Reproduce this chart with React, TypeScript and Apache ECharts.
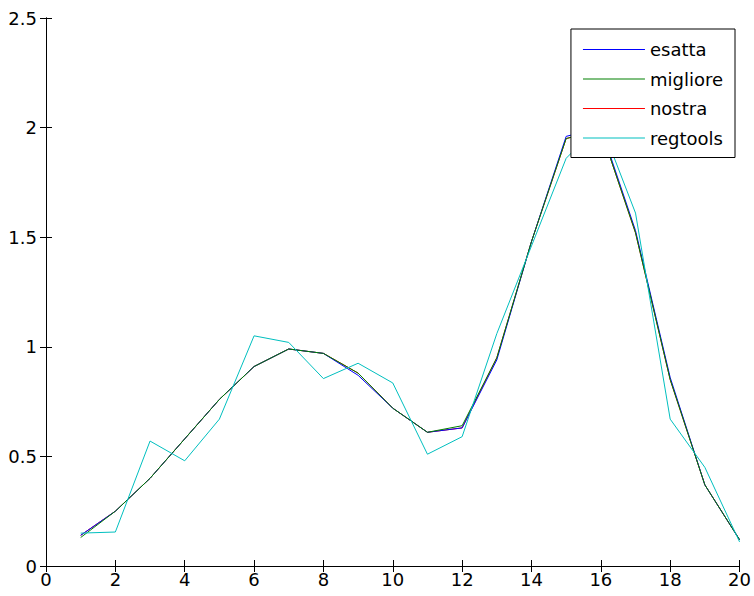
import React, { useEffect, useRef } from "react";
import * as echarts from "echarts";

const xValues = [1, 2, 3, 4, 5, 6, 7, 8, 9, 10, 11, 12, 13, 14, 15, 16, 17, 18, 19, 20];
const esatta = [0.14, 0.25, 0.4, 0.58, 0.76, 0.91, 0.99, 0.97, 0.87, 0.72, 0.61, 0.63, 0.94, 1.48, 1.96, 2.0, 1.53, 0.86, 0.37, 0.12];
const migliore = [0.13, 0.25, 0.4, 0.58, 0.76, 0.91, 0.99, 0.97, 0.88, 0.72, 0.61, 0.64, 0.95, 1.48, 1.95, 1.99, 1.52, 0.85, 0.37, 0.12];
const nostra = [0.14, 0.25, 0.4, 0.58, 0.76, 0.91, 0.99, 0.97, 0.88, 0.72, 0.61, 0.63, 0.95, 1.48, 1.95, 1.99, 1.52, 0.85, 0.37, 0.12];
const regtools = [0.15, 0.155, 0.57, 0.48, 0.67, 1.05, 1.02, 0.855, 0.925, 0.835, 0.51, 0.59, 1.06, 1.46, 1.86, 2.02, 1.61, 0.67, 0.45, 0.11];

const seriesNames = ["esatta", "migliore", "nostra", "regtools"];
const seriesColors = ["#0000ff", "#008000", "#ff0000", "#00bfbf"];
const seriesZ = [3, 4, 2, 5];
const seriesData = [esatta, migliore, nostra, regtools];

const FONT = "DejaVu Sans";

export default function App() {
  const ref = useRef<HTMLDivElement>(null);
  useEffect(() => {
    if (!ref.current) return;
    const chart = echarts.init(ref.current, undefined, { renderer: "svg" });
    const axisCommon = {
      type: "value" as const,
      axisLine: { show: true, lineStyle: { color: "#000", width: 1 } },
      axisTick: { show: true, inside: true, length: 6, lineStyle: { color: "#000", width: 1 } },
      splitLine: { show: false },
    };
    chart.setOption({
      animation: false,
      backgroundColor: "#fff",
      grid: { left: 46, right: 12, top: 18, bottom: 30, containLabel: false },
      xAxis: [
        {
          ...axisCommon,
          position: "bottom",
          min: 0,
          max: 20,
          interval: 2,
          axisLabel: { color: "#000", fontFamily: FONT, fontSize: 18, margin: 4 },
        },
        {
          ...axisCommon,
          position: "top",
          min: 0,
          max: 20,
          interval: 2,
          axisLabel: { show: false },
        },
      ],
      yAxis: [
        {
          ...axisCommon,
          position: "left",
          min: 0,
          max: 2.5,
          interval: 0.5,
          axisLabel: { color: "#000", fontFamily: FONT, fontSize: 18, margin: 9 },
        },
        {
          ...axisCommon,
          position: "right",
          min: 0,
          max: 2.5,
          interval: 0.5,
          axisLabel: { show: false },
        },
      ],
      legend: {
        data: seriesNames,
        orient: "vertical",
        right: 19,
        top: 29,
        icon: "rect",
        itemWidth: 62,
        itemHeight: 1,
        itemGap: 8.5,
        padding: [10, 12, 9, 12],
        backgroundColor: "#fff",
        borderColor: "#000",
        borderWidth: 1,
        borderRadius: 0,
        textStyle: { color: "#000", fontFamily: FONT, fontSize: 18, lineHeight: 21 },
        z: 10,
      },
      series: seriesNames.map((name, i) => ({
        name,
        type: "line",
        xAxisIndex: 0,
        yAxisIndex: 0,
        symbol: "none",
        z: seriesZ[i],
        color: seriesColors[i],
        itemStyle: { color: seriesColors[i] },
        lineStyle: { color: seriesColors[i], width: 1 },
        data: xValues.map((x, j) => [x, seriesData[i][j]]),
      })),
    });
    return () => chart.dispose();
  }, []);
  return (
    <div
      ref={ref}
      style={{ position: "fixed", left: 0, top: 0, width: 754, height: 596, background: "#fff" }}
    />
  );
}
